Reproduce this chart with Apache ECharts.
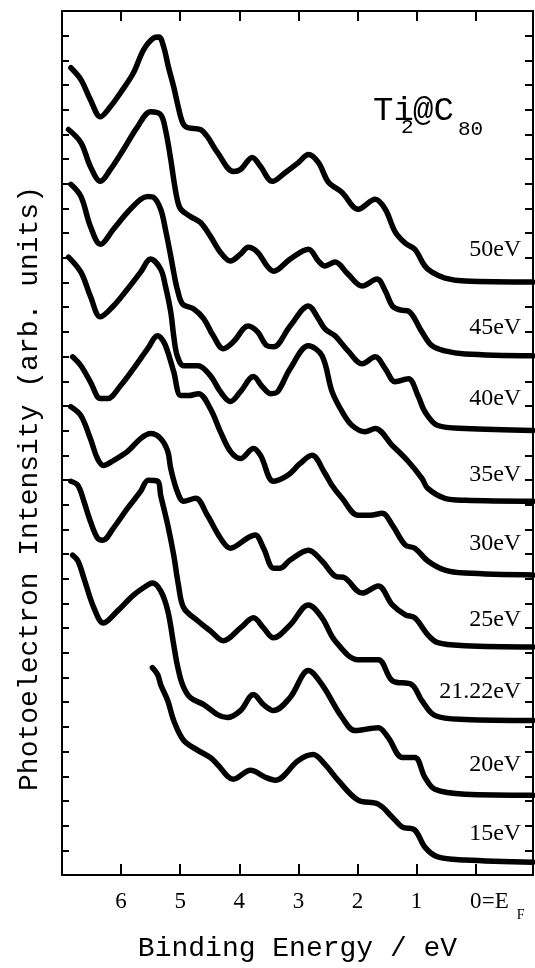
<!DOCTYPE html>
<html><head><meta charset="utf-8">
<script src="https://cdn.jsdelivr.net/npm/echarts@6/dist/echarts.min.js"></script>
<style>html,body{margin:0;padding:0;background:#fff}#c{width:535px;height:968px}</style>
</head><body><div id="c"></div>
<script>
// Photon energies (curve labels), top to bottom
const photonEnergies = ['50eV','45eV','40eV','35eV','30eV','25eV','21.22eV','20eV','15eV'];
// X tick values (binding energy, eV)
const xTickValues = [0,1,2,3,4,5,6];
const xTickLabels = ['0','1','2','3','4','5','6'];

// Spectra: [binding energy (eV), intensity (arb. units, offset)]
const spec50 = [[6.85,32.70],[6.68,32.22],[6.52,31.41],[6.35,30.72],[6.18,31.13],[6.01,31.69],[5.79,32.50],[5.62,33.43],[5.45,33.91],[5.36,33.95],[5.28,33.55],[5.20,32.74],[5.11,31.93],[5.05,31.29],[4.96,30.48],[4.88,30.28],[4.66,30.20],[4.54,29.91],[4.37,29.27],[4.10,28.50],[3.98,28.58],[3.78,29.07],[3.64,28.70],[3.44,28.10],[3.22,28.46],[3.00,28.86],[2.83,29.19],[2.66,28.86],[2.49,28.06],[2.26,27.65],[1.99,26.97],[1.70,27.37],[1.53,26.97],[1.36,26.04],[1.19,25.59],[1.03,25.35],[0.86,24.67],[0.74,24.42],[0.52,24.18],[0.18,24.06],[-0.97,24.02]];
const spec45 = [[6.89,30.20],[6.68,29.67],[6.52,28.70],[6.35,28.10],[6.18,28.58],[5.96,29.39],[5.72,30.32],[5.50,30.92],[5.33,30.80],[5.25,30.20],[5.16,28.99],[5.11,28.18],[5.05,27.37],[4.99,26.97],[4.83,26.68],[4.66,26.44],[4.49,25.88],[4.32,25.23],[4.15,24.87],[3.98,25.15],[3.85,25.43],[3.69,25.23],[3.53,24.67],[3.42,24.46],[3.14,24.95],[2.83,25.35],[2.66,24.87],[2.55,24.67],[2.38,24.83],[2.16,24.34],[1.92,23.86],[1.67,24.14],[1.53,23.66],[1.41,23.05],[1.28,22.89],[1.14,22.85],[0.91,22.00],[0.74,21.44],[0.52,21.23],[0.18,21.11],[-0.97,21.03]];
const spec40 = [[6.85,27.98],[6.68,27.49],[6.52,26.28],[6.35,25.55],[6.13,26.16],[5.89,26.85],[5.67,27.37],[5.55,27.49],[5.45,27.45],[5.33,26.97],[5.25,26.16],[5.16,25.07],[5.11,24.42],[5.05,23.74],[4.96,23.13],[4.77,22.93],[4.60,22.53],[4.44,21.84],[4.27,21.32],[4.10,21.60],[3.85,22.24],[3.69,22.00],[3.53,21.44],[3.42,21.40],[3.14,22.24],[2.83,23.05],[2.66,22.53],[2.55,22.12],[2.38,21.84],[2.16,21.23],[1.92,20.71],[1.70,20.99],[1.53,20.51],[1.36,19.98],[1.14,20.10],[0.97,19.38],[0.86,18.77],[0.64,18.21],[0.18,18.09],[-0.97,18.01]];
const spec35 = [[6.89,25.03],[6.68,24.42],[6.52,23.45],[6.35,22.61],[6.13,23.05],[5.89,23.74],[5.67,24.42],[5.50,24.95],[5.33,24.54],[5.25,23.86],[5.16,22.81],[5.11,21.84],[5.05,21.03],[4.94,20.63],[4.70,20.63],[4.49,20.23],[4.32,19.58],[4.15,19.18],[3.98,19.58],[3.76,20.19],[3.61,19.78],[3.47,19.50],[3.35,19.58],[3.14,20.51],[2.83,21.44],[2.60,21.03],[2.43,19.58],[2.26,18.77],[2.09,18.21],[1.87,17.96],[1.70,18.09],[1.41,17.40],[1.14,16.75],[0.91,16.07],[0.81,15.66],[0.52,15.26],[0.18,15.18],[-0.97,15.14]];
const spec30 = [[6.82,20.99],[6.68,20.63],[6.52,19.98],[6.35,19.30],[6.23,19.30],[6.01,19.82],[5.79,20.51],[5.55,21.32],[5.38,21.84],[5.28,21.60],[5.21,21.19],[5.11,20.39],[4.99,19.42],[4.86,19.42],[4.69,19.50],[4.49,18.89],[4.32,17.96],[4.15,17.16],[3.98,16.87],[3.76,17.28],[3.64,17.00],[3.42,15.95],[3.18,16.19],[2.97,16.67],[2.77,17.00],[2.55,16.27],[2.43,15.78],[2.26,15.26],[1.99,14.57],[1.79,14.57],[1.58,14.65],[1.41,14.17],[1.19,13.36],[1.03,13.24],[0.81,12.72],[0.52,12.35],[0.18,12.23],[-0.97,12.15]];
const spec25 = [[6.85,18.97],[6.68,18.61],[6.52,17.68],[6.40,16.87],[6.30,16.59],[6.13,16.79],[5.89,17.16],[5.67,17.68],[5.50,17.88],[5.33,17.68],[5.21,17.16],[5.16,16.47],[5.05,15.54],[4.94,15.14],[4.74,15.26],[4.54,14.57],[4.32,13.65],[4.15,13.24],[3.86,13.65],[3.73,13.77],[3.59,13.24],[3.42,12.43],[3.31,12.43],[3.14,12.76],[2.83,13.16],[2.60,12.72],[2.38,12.11],[2.21,12.03],[1.92,11.42],[1.65,11.71],[1.41,10.94],[1.19,10.54],[1.03,10.42],[0.81,9.73],[0.64,9.41],[0.18,9.29],[-0.97,9.24]];
const spec2122 = [[6.85,15.95],[6.73,15.78],[6.63,15.14],[6.52,14.33],[6.40,13.65],[6.31,13.56],[6.13,14.05],[5.89,14.86],[5.67,15.54],[5.54,15.99],[5.38,15.95],[5.33,15.38],[5.21,14.17],[5.11,12.96],[5.03,11.75],[4.94,10.82],[4.70,10.29],[4.49,9.89],[4.27,9.49],[3.98,10.01],[3.76,10.42],[3.59,10.01],[3.42,9.61],[3.14,10.13],[2.83,10.94],[2.60,10.42],[2.38,9.49],[1.99,8.72],[1.65,8.72],[1.41,7.87],[1.08,7.71],[0.91,7.06],[0.69,6.46],[0.18,6.30],[-0.97,6.26]];
const spec20 = [[6.82,12.96],[6.73,12.72],[6.63,12.03],[6.46,10.82],[6.30,10.21],[6.06,10.70],[5.79,11.34],[5.55,11.75],[5.47,11.83],[5.33,11.51],[5.21,10.70],[5.11,9.33],[5.05,8.52],[4.96,7.71],[4.83,7.19],[4.60,6.90],[4.37,6.50],[4.20,6.38],[3.98,6.66],[3.76,7.31],[3.59,6.90],[3.42,6.66],[3.14,7.19],[2.83,8.28],[2.60,7.71],[2.26,6.38],[2.04,5.85],[1.65,5.97],[1.48,5.57],[1.24,4.76],[1.03,4.76],[0.86,3.96],[0.69,3.47],[0.18,3.27],[-0.97,3.23]];
const spec15 = [[5.47,8.40],[5.38,8.11],[5.33,7.71],[5.21,7.06],[5.11,6.26],[4.94,5.45],[4.70,5.05],[4.49,4.76],[4.37,4.48],[4.10,3.88],[3.81,4.24],[3.56,3.96],[3.39,3.84],[3.00,4.64],[2.75,4.88],[2.55,4.48],[2.33,3.84],[1.99,3.03],[1.65,2.87],[1.41,2.34],[1.24,1.94],[1.03,1.82],[0.86,1.13],[0.64,0.73],[0.18,0.61],[-0.97,0.52]];

const spectra = [spec50, spec45, spec40, spec35, spec30, spec25, spec2122, spec20, spec15];
// label lift above each curve's baseline (pixels)
const labelLift = [32, 28, 32, 27, 31, 27, 29, 31, 28];

const axisLineStyle = {color:'#000', width:2};
const option = {
  animation:false,
  backgroundColor:'#fff',
  grid:{left:62, right:2, top:11, bottom:90},
  xAxis:[
    {type:'value', inverse:true, min:-0.97, max:7, position:'bottom',
     axisLine:{show:true, onZero:false, lineStyle:axisLineStyle},
     axisTick:{show:true, inside:true, length:11, lineStyle:{color:'#000', width:2}, customValues:xTickValues},
     axisLabel:{show:true, customValues:xTickValues, margin:15, color:'#000', fontFamily:'Liberation Serif', fontSize:23,
       formatter:(v)=>xTickLabels[xTickValues.indexOf(Math.round(v))] ?? ''},
     splitLine:{show:false},
     name:'Binding Energy / eV', nameLocation:'middle', nameGap:60,
     nameTextStyle:{fontFamily:'Liberation Mono', fontSize:28, color:'#000'}},
    {type:'value', inverse:true, min:-0.97, max:7, position:'top',
     axisLine:{show:true, onZero:false, lineStyle:axisLineStyle},
     axisTick:{show:true, inside:true, length:10, lineStyle:{color:'#000', width:2}, customValues:xTickValues},
     axisLabel:{show:false}, splitLine:{show:false}}
  ],
  yAxis:[
    {type:'value', min:0, max:35, interval:1, position:'left',
     axisLine:{show:true, onZero:false, lineStyle:axisLineStyle},
     axisTick:{show:true, inside:true, length:7, lineStyle:{color:'#000', width:2}},
     axisLabel:{show:false}, splitLine:{show:false},
     name:'Photoelectron Intensity (arb. units)', nameLocation:'middle', nameRotate:90, nameGap:18,
     nameTextStyle:{fontFamily:'Liberation Mono', fontSize:28, color:'#000', padding:[0,91,0,0]}},
    {type:'value', min:0, max:35, interval:1, position:'right',
     axisLine:{show:true, onZero:false, lineStyle:axisLineStyle},
     axisTick:{show:true, inside:true, length:8, lineStyle:{color:'#000', width:2}},
     axisLabel:{show:false}, splitLine:{show:false}}
  ],
  series: spectra.map((d,i)=>({
    type:'line', name:photonEnergies[i], data:d, xAxisIndex:0, yAxisIndex:0,
    symbol:'none', smooth:0.35,
    lineStyle:{color:'#000', width:5.5, join:'round', cap:'round'}, silent:true
  }))
};

const chart = echarts.init(document.getElementById('c'), null, {renderer:'canvas'});
chart.setOption(option);

// Annotations
const g = [];
const labelRight = chart.convertToPixel({xAxisIndex:0}, -0.77);
spectra.forEach((d,i)=>{
  const last = d[d.length-1];
  const p = chart.convertToPixel({xAxisIndex:0, yAxisIndex:0}, last);
  g.push({type:'text', silent:true, style:{text:photonEnergies[i], x:labelRight, y:p[1]-labelLift[i],
    align:'right', textAlign:'right', verticalAlign:'middle', textVerticalAlign:'middle',
    font:'24px "Liberation Serif"', fill:'#000'}});
});
// 0 = E_F tick label suffix
const x0 = chart.convertToPixel({xAxisIndex:0}, 0);
const axisY = chart.convertToPixel({yAxisIndex:0}, 0);
g.push({type:'text', silent:true, style:{text:'=E', x:x0+6, y:axisY+27, align:'left', textAlign:'left', verticalAlign:'middle', textVerticalAlign:'middle', font:'23px "Liberation Serif"', fill:'#000'}});
g.push({type:'text', silent:true, style:{text:'F', x:x0+41, y:axisY+40, align:'left', textAlign:'left', verticalAlign:'middle', textVerticalAlign:'middle', font:'14px "Liberation Serif"', fill:'#000'}});
// Title Ti2@C80
const tStyle = (t,x,y,size)=>({type:'text', silent:true, style:{text:t, x:x, y:y, align:'left', textAlign:'left', verticalAlign:'middle', textVerticalAlign:'middle', font:size+'px "Liberation Mono"', fill:'#000'}});
g.push(tStyle('Ti',373,111,34));
g.push(tStyle('2',401,127,21));
g.push(tStyle('@C',413,111,34));
g.push(tStyle('80',458,129,21));
chart.setOption({graphic:{elements:g}});
</script>
</body></html>
